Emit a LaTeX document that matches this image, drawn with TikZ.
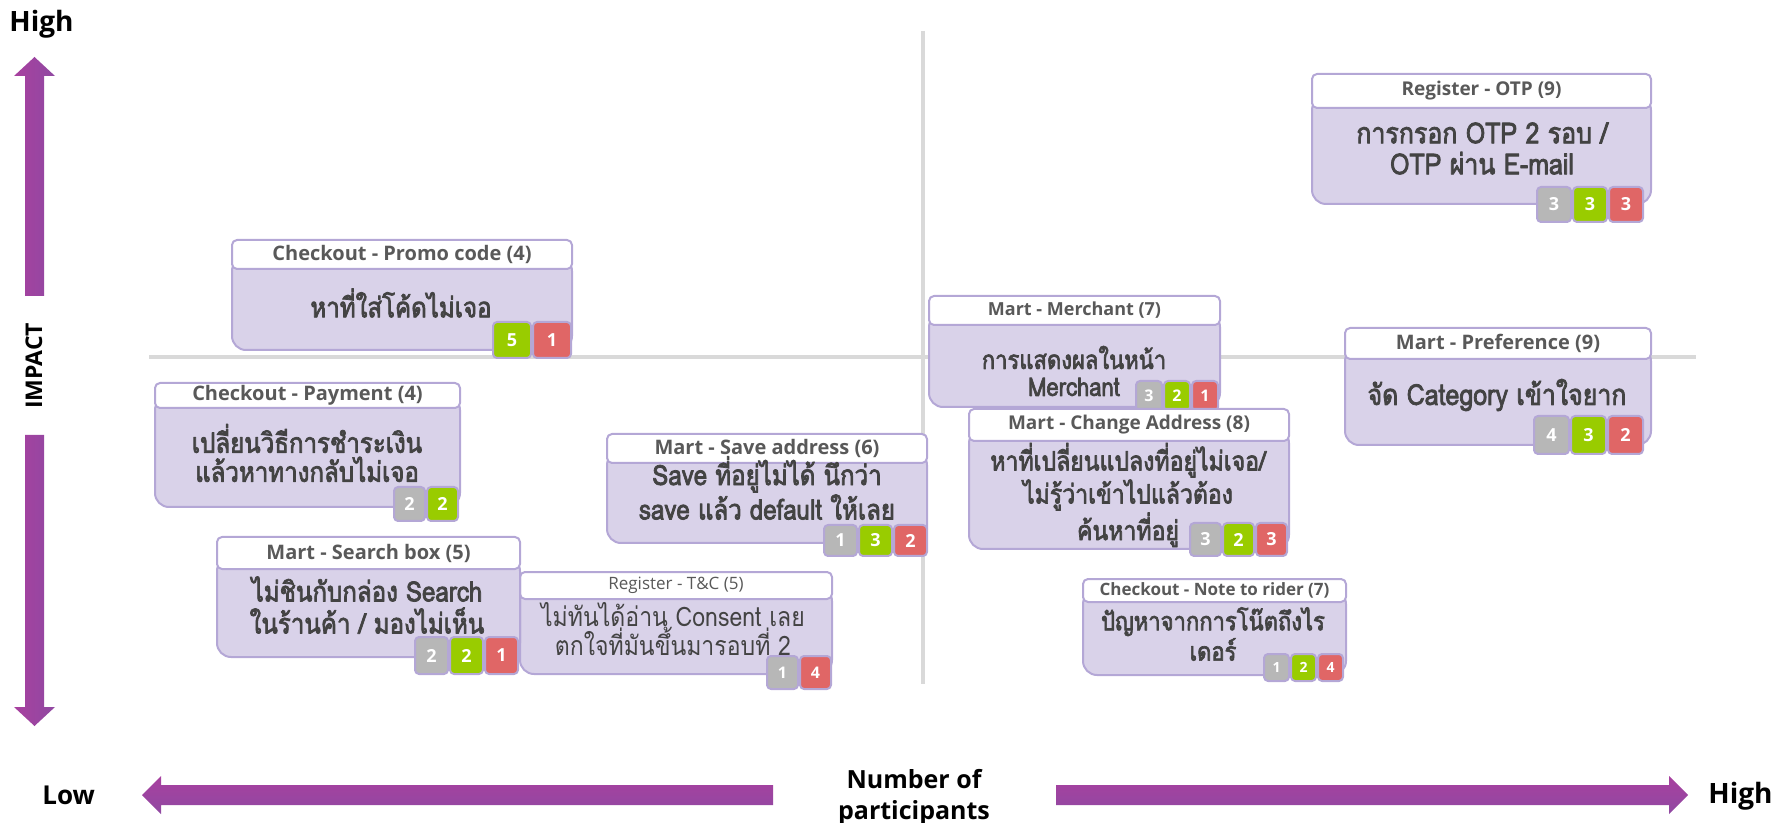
\documentclass[tikz,border=0pt]{standalone}
\usepackage{fontspec}
\setmainfont{Open Sans}
\newfontfamily\thaifont[Script=Thai,FakeStretch=0.86]{Loma}
\newfontfamily\thaibold[Script=Thai,FakeStretch=0.86,FakeBold=2.6]{Loma}
\usetikzlibrary{positioning}
\definecolor{cardfill}{HTML}{D9D2E9}
\definecolor{cardline}{HTML}{B4A7D6}
\definecolor{headtext}{HTML}{595959}
\definecolor{bodytext}{HTML}{434343}
\definecolor{bgray}{HTML}{B7B7B7}
\definecolor{bgreen}{HTML}{99CC00}
\definecolor{bred}{HTML}{E06666}
\definecolor{quad}{HTML}{D9D9D9}
\definecolor{arrA}{HTML}{A8409F}
\definecolor{arrB}{HTML}{9049A2}
\begin{document}
\begin{tikzpicture}[x=0.5pt,y=-0.5pt,line join=round,
  quadline/.style={draw=quad,line width=2pt},
  axlabel/.style={font=\bfseries\fontsize{14}{16}\selectfont,inner sep=0pt},
  cardhead/.style={draw=cardline,line width=1pt,fill=white,rounded corners=2.5pt,text=headtext,inner sep=0pt,font=\bfseries\fontsize{10}{12}\selectfont},
  cardbody/.style={draw=cardline,line width=1pt,fill=cardfill,rounded corners=7pt,inner sep=0pt},
  cardtext/.style={align=center,text=bodytext,inner sep=0pt,font=\thaibold\fontsize{14}{14.5}\selectfont},
  badge/.style={draw=cardline,line width=1pt,rounded corners=2pt,text=white,inner sep=0pt,font=\bfseries\fontsize{9}{10}\selectfont}]
  \useasboundingbox (0,0) rectangle (1773,823);
  % quadrant lines
  \draw[quadline] (149,357) -- (1696,357);
  \draw[quadline] (923,31) -- (923,684);
  % impact axis
  \shade[left color=arrA,right color=arrB] (25,296) -- (25,76) -- (14,76) -- (34.5,57) -- (55,76) -- (44,76) -- (44,296) -- cycle;
  \shade[left color=arrA,right color=arrB] (25,435) -- (25,707) -- (14,707) -- (34.5,726) -- (55,707) -- (44,707) -- (44,435) -- cycle;
  \node[axlabel,anchor=base west] (yhigh) at (9,32) {High};
  \node[axlabel,rotate=90,font=\bfseries\fontsize{11.5}{13}\selectfont] (impact) at (34,366) {IMPACT};
  % participants axis
  \shade[top color=arrA,bottom color=arrB] (773,785) -- (161,785) -- (161,776) -- (142,795) -- (161,814) -- (161,805) -- (773,805) -- cycle;
  \shade[top color=arrA,bottom color=arrB] (1056,785) -- (1669,785) -- (1669,776) -- (1688,795) -- (1669,814) -- (1669,805) -- (1056,805) -- cycle;
  \node[axlabel,anchor=base west,font=\bfseries\fontsize{13}{15}\selectfont] (xlow) at (42,804) {Low};
  \node[axlabel,anchor=base west] (xhigh) at (1708,803) {High};
  \node[axlabel,align=center,font=\bfseries\fontsize{12.5}{15.5}\selectfont] (xtitle) at (914,797) {Number of\\participants};

  % Checkout - Promo code
  \begin{scope}[badge/.append style={minimum width=19pt,minimum height=18pt}]
    \node[cardbody,minimum width=170pt,minimum height=46.5pt] (pc-b) at (402,303.5) {};
    \node[cardhead,minimum width=170pt,minimum height=14.5pt] (pc-h) at (402,254.5) {Checkout - Promo code (4)};
    \node[cardtext] (pc-t) at (401,303) {หาที่ใส่โค้ดไม่เจอ};
    \node[badge,fill=bred,anchor=south east] (pc-r) at (572,359) {1};
    \node[badge,fill=bgreen,left=0pt of pc-r] (pc-g) {5};
  \end{scope}

  % Checkout - Payment
  \begin{scope}[badge/.append style={minimum width=15.5pt,minimum height=17pt}]
    \node[cardbody,minimum width=152.5pt,minimum height=55.5pt] (pay-b) at (307.5,451.5) {};
    \node[cardhead,minimum width=152.5pt,minimum height=12.5pt] (pay-h) at (307.5,395.5) {Checkout - Payment (4)};
    \node[cardtext] (pay-t) at (307,453) {เปลี่ยนวิธีการชำระเงิน\\แล้วหาทางกลับไม่เจอ};
    \node[badge,fill=bgreen,anchor=south east] (pay-g) at (459,522) {2};
    \node[badge,fill=bgray,left=0pt of pay-g] (pay-a) {2};
  \end{scope}

  % Register - T&C
  \begin{scope}[badge/.append style={minimum width=15.5pt,minimum height=16.5pt,font=\bfseries\fontsize{8}{10}\selectfont}]
    \node[cardbody,minimum width=156pt,minimum height=43.5pt] (tc-b) at (676,630.5) {};
    \node[cardhead,minimum width=156pt,minimum height=13.5pt,font=\fontsize{8.5}{10}\selectfont] (tc-h) at (676,585.5) {Register - T\&C (5)};
    \node[cardtext,font=\thaifont\fontsize{13.4}{14.5}\selectfont] (tc-t) at (673,629) {ไม่ทันได้อ่าน Consent เลย\\ตกใจที่มันขึ้นมารอบที่ 2};
    \node[badge,fill=bred,anchor=south east] (tc-r) at (832,690) {4};
    \node[badge,fill=bgray,left=0pt of tc-r] (tc-a) {1};
  \end{scope}

  % Mart - Search box
  \begin{scope}[badge/.append style={minimum width=16.5pt,minimum height=18.5pt}]
    \node[cardbody,minimum width=151.5pt,minimum height=50pt] (sb-b) at (368.5,607) {};
    \node[cardhead,minimum width=151.5pt,minimum height=16pt] (sb-h) at (368.5,553) {Mart - Search box (5)};
    \node[cardtext,font=\thaibold\fontsize{14}{16}\selectfont] (sb-t) at (367,605) {ไม่ชินกับกล่อง Search\\ในร้านค้า / มองไม่เห็น};
    \node[badge,fill=bred,anchor=south east] (sb-r) at (519,675) {1};
    \node[badge,fill=bgreen,left=0pt of sb-r] (sb-g) {2};
    \node[badge,fill=bgray,left=0pt of sb-g] (sb-a) {2};
  \end{scope}

  % Mart - Save address
  \begin{scope}[badge/.append style={minimum width=16.5pt,minimum height=15.5pt}]
    \node[cardbody,minimum width=160pt,minimum height=46pt] (sa-b) at (767,497) {};
    \node[cardhead,minimum width=160pt,minimum height=14.5pt] (sa-h) at (767,448.5) {Mart - Save address (6)};
    \node[cardtext,font=\thaibold\fontsize{14}{14}\selectfont] (sa-t) at (767,488) {Save ที่อยู่ไม่ได้ นึกว่า\\save แล้ว default ให้เลย};
    \node[badge,fill=bred,anchor=south east] (sa-r) at (928,557) {2};
    \node[badge,fill=bgreen,left=0pt of sa-r] (sa-g) {3};
    \node[badge,fill=bgray,left=0pt of sa-g] (sa-a) {1};
  \end{scope}

  % Mart - Merchant
  \begin{scope}[badge/.append style={minimum width=13pt,minimum height=15pt,font=\bfseries\fontsize{8}{10}\selectfont}]
    \node[cardbody,minimum width=145.5pt,minimum height=47pt] (me-b) at (1074.5,360) {};
    \node[cardhead,minimum width=145.5pt,minimum height=14.5pt,font=\bfseries\fontsize{9}{11}\selectfont] (me-h) at (1074.5,310.5) {Mart - Merchant (7)};
    \node[cardtext,font=\thaibold\fontsize{12.8}{13.5}\selectfont] (me-t) at (1074,371) {การแสดงผลในหน้า\\Merchant};
    \node[badge,fill=bred,anchor=north east] (me-r) at (1219,380) {1};
    \node[badge,fill=bgreen,left=0pt of me-r] (me-g) {2};
    \node[badge,fill=bgray,left=0pt of me-g] (me-a) {3};
  \end{scope}

  % Mart - Change Address
  \begin{scope}[badge/.append style={minimum width=15.5pt,minimum height=16.5pt}]
    \node[cardbody,minimum width=160pt,minimum height=60pt] (ca-b) at (1129,489) {};
    \node[cardhead,minimum width=160pt,minimum height=16pt,font=\bfseries\fontsize{9.5}{11}\selectfont] (ca-h) at (1129,425) {Mart - Change Address (8)};
    \node[cardtext,font=\thaibold\fontsize{13.4}{14.25}\selectfont] (ca-t) at (1128,495) {หาที่เปลี่ยนแปลงที่อยู่ไม่เจอ/\\ไม่รู้ว่าเข้าไปแล้วต้อง\\ค้นหาที่อยู่};
    \node[badge,fill=bred,anchor=south east] (ca-r) at (1288,557) {3};
    \node[badge,fill=bgreen,left=0pt of ca-r] (ca-g) {2};
    \node[badge,fill=bgray,left=0pt of ca-g] (ca-a) {3};
  \end{scope}

  % Checkout - Note to rider
  \begin{scope}[badge/.append style={minimum width=12.5pt,minimum height=13.5pt,font=\bfseries\fontsize{7}{8}\selectfont}]
    \node[cardbody,minimum width=131.5pt,minimum height=42.5pt] (nr-b) at (1214.5,632.5) {};
    \node[cardhead,minimum width=131.5pt,minimum height=11.5pt,font=\bfseries\fontsize{8.5}{10}\selectfont] (nr-h) at (1214.5,590.5) {Checkout - Note to rider (7)};
    \node[cardtext,font=\thaibold\fontsize{12.8}{13}\selectfont] (nr-t) at (1213,634) {ปัญหาจากการโน๊ตถึงไร\\เดอร์};
    \node[badge,fill=bred,anchor=south east] (nr-r) at (1344,682) {4};
    \node[badge,fill=bgreen,left=0pt of nr-r] (nr-g) {2};
    \node[badge,fill=bgray,left=0pt of nr-g] (nr-a) {1};
  \end{scope}

  % Register - OTP
  \begin{scope}[badge/.append style={minimum width=17pt,minimum height=17.5pt}]
    \node[cardbody,minimum width=169.5pt,minimum height=54pt] (otp-b) at (1481.5,150) {};
    \node[cardhead,minimum width=169.5pt,minimum height=17pt,font=\bfseries\fontsize{9.5}{11}\selectfont] (otp-h) at (1481.5,91) {Register - OTP (9)};
    \node[cardtext,font=\thaibold\fontsize{14.5}{15.5}\selectfont] (otp-t) at (1482,148.5) {การกรอก OTP 2 รอบ /\\OTP ผ่าน E-mail};
    \node[badge,fill=bred,anchor=south east] (otp-r) at (1644,223) {3};
    \node[badge,fill=bgreen,left=0pt of otp-r] (otp-g) {3};
    \node[badge,fill=bgray,left=0pt of otp-g] (otp-a) {3};
  \end{scope}

  % Mart - Preference
  \begin{scope}[badge/.append style={minimum width=17.5pt,minimum height=19pt}]
    \node[cardbody,minimum width=153pt,minimum height=49pt] (pr-b) at (1498,396) {};
    \node[cardhead,minimum width=153pt,minimum height=15.5pt] (pr-h) at (1498,343.5) {Mart - Preference (9)};
    \node[cardtext,font=\thaibold\fontsize{14.5}{15}\selectfont] (pr-t) at (1497,395) {จัด Category เข้าใจยาก};
    \node[badge,fill=bred,anchor=south east] (pr-r) at (1644,455) {2};
    \node[badge,fill=bgreen,left=0pt of pr-r] (pr-g) {3};
    \node[badge,fill=bgray,left=0pt of pr-g] (pr-a) {4};
  \end{scope}
\end{tikzpicture}
\end{document}
